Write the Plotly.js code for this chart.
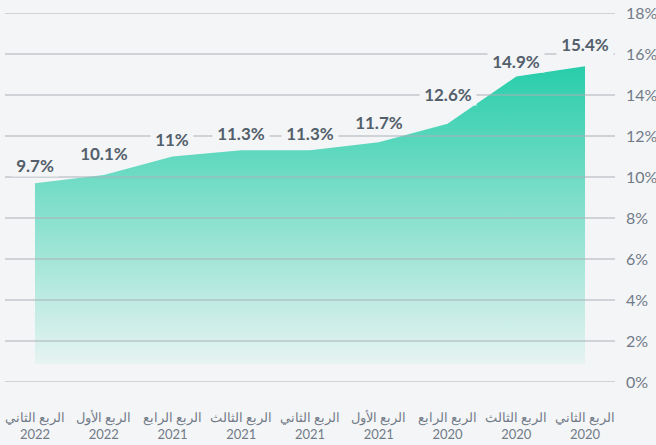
<!DOCTYPE html>
<html>
<head>
<meta charset="utf-8">
<script src="https://cdn.plot.ly/plotly-3.0.1.min.js"></script>
<style>
html,body{margin:0;padding:0;background:#f4f5f7;}
#chart{width:656px;height:445px;}
</style>
</head>
<body>
<div id="chart"></div>
<script>
const quarters = ['الربع الثاني','الربع الأول','الربع الرابع','الربع الثالث','الربع الثاني','الربع الأول','الربع الرابع','الربع الثالث','الربع الثاني'];
const years = ['2022','2022','2021','2021','2021','2021','2020','2020','2020'];
const values = [9.7, 10.1, 11, 11.3, 11.3, 11.7, 12.6, 14.9, 15.4];
const yTicks = [0, 2, 4, 6, 8, 10, 12, 14, 16, 18];

// label placement (style): pixel lift of each value label above its point
const labelLift = [18, 21, 17, 17, 17, 20, 29, 15, 22];

const bg = '#f4f5f7';
const categories = quarters.map((q, i) => q + '<br>' + years[i]);
const maxV = Math.max(...values);

const trace = {
  x: categories,
  y: values,
  type: 'scatter',
  mode: 'lines',
  line: {width: 0, color: 'rgba(0,0,0,0)'},
  fill: 'tozeroy',
  fillgradient: {
    type: 'vertical',
    start: 0,
    stop: maxV,
    colorscale: [
      [0, 'rgba(230,243,241,0)'],
      [0.055, 'rgba(230,243,241,0)'],
      [0.06, 'rgb(230,243,241)'],
      [1, 'rgb(40,205,170)']
    ]
  },
  hoverinfo: 'skip',
  cliponaxis: false
};

const gridShapes = yTicks.map(t => ({
  type: 'line', xref: 'paper', yref: 'y', x0: 0, x1: 1, y0: t, y1: t,
  line: {color: '#aab0b8', width: 1}, layer: 'above'
}));

const labels = values.map((v, i) => ({
  x: categories[i], y: v, xref: 'x', yref: 'y',
  text: '\u00a0' + v + '%\u00a0', showarrow: false, yshift: labelLift[i],
  font: {family: 'Lato, "Open Sans", sans-serif', size: 17, color: '#535f6b', weight: 'bold'},
  bgcolor: bg, borderpad: 0
}));

const layout = {
  width: 656, height: 445,
  paper_bgcolor: bg, plot_bgcolor: bg,
  margin: {l: 5, r: 41, t: 13, b: 63},
  showlegend: false,
  xaxis: {
    type: 'category',
    range: [-0.436, categories.length - 1 + 0.436],
    showgrid: false, zeroline: false, showline: false, ticks: '',
    tickfont: {family: 'Lato, "Noto Sans", sans-serif', size: 13, color: '#717b87'},
    ticklabelstandoff: 26,
    fixedrange: true
  },
  yaxis: {
    side: 'right',
    range: [0, 18],
    tickvals: yTicks,
    ticktext: yTicks.map(t => t + '%'),
    showgrid: false, zeroline: false, showline: false, ticks: '',
    tickfont: {family: 'Lato, "Open Sans", sans-serif', size: 16, color: '#717b87'},
    ticklabelstandoff: 10,
    fixedrange: true
  },
  shapes: gridShapes,
  annotations: labels
};

Plotly.newPlot('chart', [trace], layout, {displayModeBar: false, staticPlot: true});
</script>
</body>
</html>
